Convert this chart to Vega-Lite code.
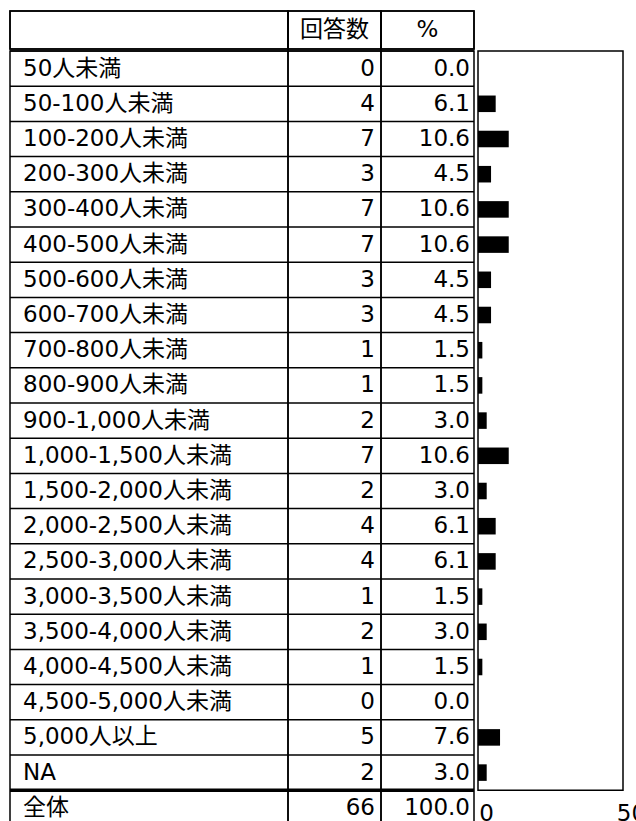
{
  "$schema": "https://vega.github.io/schema/vega-lite/v6.json",
  "padding": {"left": 7, "top": 9, "right": 0, "bottom": 0},
  "background": "white",
  "config": {
    "view": {"stroke": "black", "strokeWidth": 1.5},
    "text": {"font": "DejaVu Sans, Noto Sans CJK JP", "fontSize": 23, "color": "black"},
    "axis": {"labelFont": "DejaVu Sans, Noto Sans CJK JP"}
  },
  "datasets": {
    "rows": [
      {"label": "50人未満", "n": 0, "pct": 0.0},
      {"label": "50-100人未満", "n": 4, "pct": 6.1},
      {"label": "100-200人未満", "n": 7, "pct": 10.6},
      {"label": "200-300人未満", "n": 3, "pct": 4.5},
      {"label": "300-400人未満", "n": 7, "pct": 10.6},
      {"label": "400-500人未満", "n": 7, "pct": 10.6},
      {"label": "500-600人未満", "n": 3, "pct": 4.5},
      {"label": "600-700人未満", "n": 3, "pct": 4.5},
      {"label": "700-800人未満", "n": 1, "pct": 1.5},
      {"label": "800-900人未満", "n": 1, "pct": 1.5},
      {"label": "900-1,000人未満", "n": 2, "pct": 3.0},
      {"label": "1,000-1,500人未満", "n": 7, "pct": 10.6},
      {"label": "1,500-2,000人未満", "n": 2, "pct": 3.0},
      {"label": "2,000-2,500人未満", "n": 4, "pct": 6.1},
      {"label": "2,500-3,000人未満", "n": 4, "pct": 6.1},
      {"label": "3,000-3,500人未満", "n": 1, "pct": 1.5},
      {"label": "3,500-4,000人未満", "n": 2, "pct": 3.0},
      {"label": "4,000-4,500人未満", "n": 1, "pct": 1.5},
      {"label": "4,500-5,000人未満", "n": 0, "pct": 0.0},
      {"label": "5,000人以上", "n": 5, "pct": 7.6},
      {"label": "NA", "n": 2, "pct": 3.0},
      {"label": "全体", "n": 66, "pct": 100.0}
    ]
  },
  "vconcat": [
    {
      "hconcat": [
        {
          "hconcat": [
            {"width": 278, "height": 38, "data": {"values": [{"h": ""}]}, "layer": [
              {"mark": {"type": "rect", "fill": null, "stroke": "black", "strokeWidth": 1.5}, "encoding": {
                "x": {"datum": 0, "type": "quantitative", "scale": {"domain": [0, 1]}, "axis": null},
                "x2": {"datum": 1},
                "y": {"datum": 0, "type": "quantitative", "scale": {"domain": [0, 1]}, "axis": null},
                "y2": {"datum": 1}}},
              {"mark": {"type": "text", "baseline": "middle"}, "encoding": {"text": {"field": "h"}}}
            ]},
            {"width": 93, "height": 38, "data": {"values": [{"h": "回答数"}]}, "layer": [
              {"mark": {"type": "rect", "fill": null, "stroke": "black", "strokeWidth": 1.5}, "encoding": {
                "x": {"datum": 0, "type": "quantitative", "scale": {"domain": [0, 1]}, "axis": null},
                "x2": {"datum": 1},
                "y": {"datum": 0, "type": "quantitative", "scale": {"domain": [0, 1]}, "axis": null},
                "y2": {"datum": 1}}},
              {"mark": {"type": "text", "baseline": "middle"}, "encoding": {"text": {"field": "h"}}}
            ]},
            {"width": 93, "height": 38, "data": {"values": [{"h": "%"}]}, "layer": [
              {"mark": {"type": "rect", "fill": null, "stroke": "black", "strokeWidth": 1.5}, "encoding": {
                "x": {"datum": 0, "type": "quantitative", "scale": {"domain": [0, 1]}, "axis": null},
                "x2": {"datum": 1},
                "y": {"datum": 0, "type": "quantitative", "scale": {"domain": [0, 1]}, "axis": null},
                "y2": {"datum": 1}}},
              {"mark": {"type": "text", "baseline": "middle"}, "encoding": {"text": {"field": "h"}}}
            ]}
          ],
          "spacing": 0,
          "bounds": "flush"
        },
        {"width": 145, "height": 38, "view": {"stroke": null}, "data": {"values": [{"h": ""}]}, "mark": {"type": "text"}, "encoding": {"text": {"field": "h"}}}
      ],
      "spacing": 0
    },
    {
      "hconcat": [
        {
          "hconcat": [
            {
              "width": 278,
              "height": {"step": 35.2},
              "data": {"name": "rows"},
              "layer": [
                {"mark": {"type": "rule", "color": "black", "strokeWidth": 1.5}, "encoding": {"y": {"field": "label", "type": "nominal", "sort": null, "bandPosition": 0, "scale": {"type": "band", "paddingInner": 0, "paddingOuter": 0}, "axis": null}}},
                {"transform": [{"filter": "datum.label === '全体'"}], "mark": {"type": "rule", "color": "black", "strokeWidth": 3.5}, "encoding": {"y": {"field": "label", "type": "nominal", "sort": null, "bandPosition": 0, "axis": null}}},
                {"mark": {"type": "text", "align": "left", "baseline": "middle", "dx": 13}, "encoding": {
                  "x": {"datum": 0, "type": "quantitative", "scale": {"domain": [0, 1]}, "axis": null},
                  "y": {"field": "label", "type": "nominal", "sort": null, "axis": null},
                  "text": {"field": "label", "type": "nominal"}}}
              ]
            },
            {
              "width": 93,
              "height": {"step": 35.2},
              "data": {"name": "rows"},
              "layer": [
                {"mark": {"type": "rule", "color": "black", "strokeWidth": 1.5}, "encoding": {"y": {"field": "label", "type": "nominal", "sort": null, "bandPosition": 0, "scale": {"type": "band", "paddingInner": 0, "paddingOuter": 0}, "axis": null}}},
                {"transform": [{"filter": "datum.label === '全体'"}], "mark": {"type": "rule", "color": "black", "strokeWidth": 3.5}, "encoding": {"y": {"field": "label", "type": "nominal", "sort": null, "bandPosition": 0, "axis": null}}},
                {"mark": {"type": "text", "align": "right", "baseline": "middle", "dx": -6}, "encoding": {
                  "x": {"datum": 1, "type": "quantitative", "scale": {"domain": [0, 1]}, "axis": null},
                  "y": {"field": "label", "type": "nominal", "sort": null, "axis": null},
                  "text": {"field": "n", "type": "quantitative"}}}
              ]
            },
            {
              "width": 93,
              "height": {"step": 35.2},
              "data": {"name": "rows"},
              "layer": [
                {"mark": {"type": "rule", "color": "black", "strokeWidth": 1.5}, "encoding": {"y": {"field": "label", "type": "nominal", "sort": null, "bandPosition": 0, "scale": {"type": "band", "paddingInner": 0, "paddingOuter": 0}, "axis": null}}},
                {"transform": [{"filter": "datum.label === '全体'"}], "mark": {"type": "rule", "color": "black", "strokeWidth": 3.5}, "encoding": {"y": {"field": "label", "type": "nominal", "sort": null, "bandPosition": 0, "axis": null}}},
                {"mark": {"type": "text", "align": "right", "baseline": "middle", "dx": -4}, "encoding": {
                  "x": {"datum": 1, "type": "quantitative", "scale": {"domain": [0, 1]}, "axis": null},
                  "y": {"field": "label", "type": "nominal", "sort": null, "axis": null},
                  "text": {"field": "pct", "type": "quantitative", "format": ".1f"}}}
              ]
            }
          ],
          "spacing": 0,
          "bounds": "flush"
        },
        {
          "width": 145,
          "height": {"step": 35.2},
          "data": {"name": "rows"},
          "transform": [{"filter": "datum.label !== '全体'"}],
          "mark": {"type": "bar", "color": "black", "height": {"band": 0.47}},
          "encoding": {
            "y": {"field": "label", "type": "nominal", "sort": null, "scale": {"type": "band", "paddingInner": 0, "paddingOuter": 0}, "axis": null},
            "x": {"field": "pct", "type": "quantitative", "scale": {"domain": [0, 50], "nice": false}, "axis": {"values": [0, 50], "domain": false, "ticks": false, "tickSize": 0, "grid": false, "title": null, "labelFontSize": 23, "labelColor": "black", "labelPadding": 12, "labelOffset": 8, "labelFlush": false}}
          }
        }
      ],
      "spacing": 0
    }
  ],
  "spacing": -5
}
